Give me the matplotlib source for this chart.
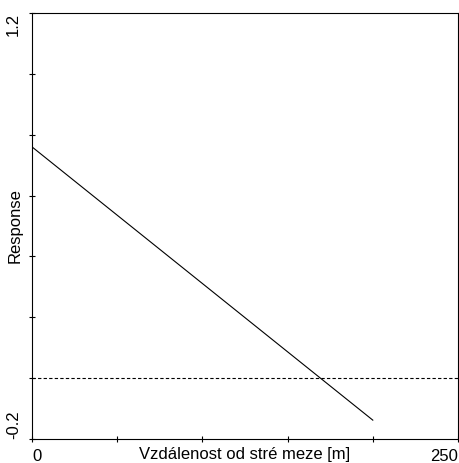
import matplotlib
matplotlib.use("Agg")
import matplotlib.pyplot as plt

plt.rcParams['font.family'] = ['Liberation Sans', 'DejaVu Sans']

# data
dist = [0, 200]
response = [0.76, -0.138]
ref_level = 0.0
x_ticks = [0, 50, 100, 150, 200, 250]
x_ticklabels = ['0', '', '', '', '', '250']
y_ticks = [-0.2, 0.0, 0.2, 0.4, 0.6, 0.8, 1.0, 1.2]
y_ticklabels = ['-0.2', '', '', '', '', '', '', '1.2']

FS = 12

fig = plt.figure(figsize=(4.6, 4.63), dpi=100)
ax = fig.add_axes([32/460, 1-439/463, 426/460, 426/463])

ax.plot(dist, response, color='black', lw=0.8)
ax.axhline(ref_level, color='black', lw=0.8, ls=(0, (3, 2)))

ax.set_xlim(0, 250)
ax.set_ylim(-0.2, 1.2)
ax.set_xticks(x_ticks)
ax.set_xticklabels(x_ticklabels, fontsize=FS)
ax.set_yticks(y_ticks)
ax.set_yticklabels(y_ticklabels, fontsize=FS, rotation=90)
ax.tick_params(direction='inout', length=4, width=0.8)
ax.tick_params(axis='x', pad=5)
ax.tick_params(axis='y', pad=6)

xl = ax.get_xticklabels()
xl[0].set_ha('left')
xl[-1].set_ha('right')
yl = ax.get_yticklabels()
yl[0].set_va('bottom')
yl[-1].set_va('top')

ax.set_xlabel('Vzdálenost od stré meze [m]', fontsize=FS, labelpad=-12)
ax.set_ylabel('Response', fontsize=FS, labelpad=-12)

for s in ax.spines.values():
    s.set_linewidth(0.8)

fig.savefig('out.png', dpi=100)
